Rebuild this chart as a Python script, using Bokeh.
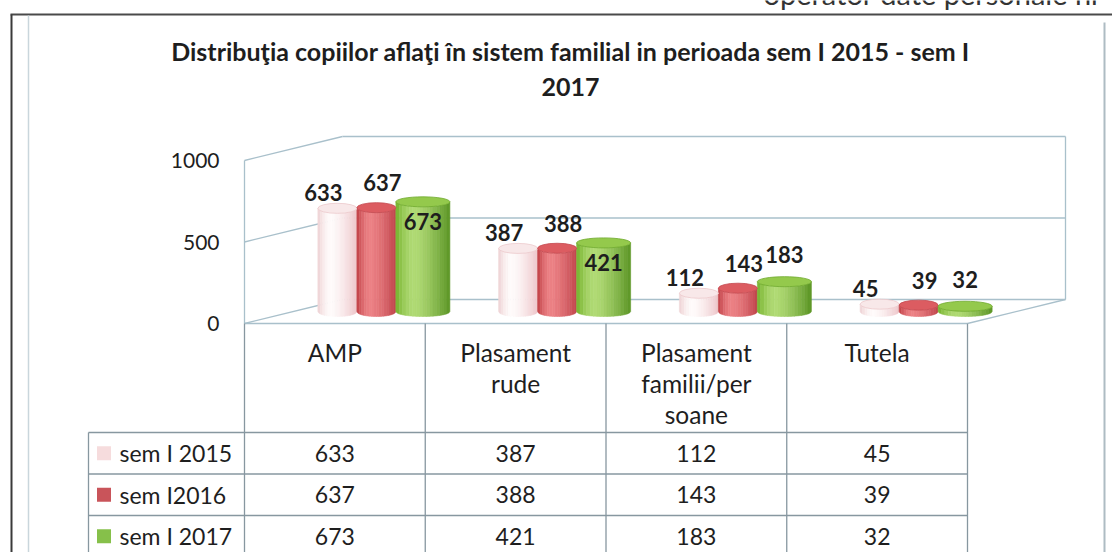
import numpy as np
from bokeh.plotting import figure
from bokeh.models import Range1d, ColumnDataSource
from bokeh.embed import file_html
from bokeh.resources import INLINE
from bokeh.core.properties import value

# ---------------- data ----------------
title_lines = ["Distribuţia copiilor aflaţi în sistem familial in perioada sem I 2015 - sem I", "2017"]
header_note = "operator date personale nr"
categories = ["AMP", "Plasament rude", "Plasament familii/persoane", "Tutela"]
category_lines = [["AMP"], ["Plasament", "rude"], ["Plasament", "familii/per", "soane"], ["Tutela"]]
series_names = ["sem I 2015", "sem I2016", "sem I 2017"]
sem_2015 = [633, 387, 112, 45]
sem_2016 = [637, 388, 143, 39]
sem_2017 = [673, 421, 183, 32]
y_ticks = [0, 500, 1000]
series_values = [sem_2015, sem_2016, sem_2017]

# ---------------- layout (image px) ----------------
W, H, OFF = 1112, 552, 0
X0, CAT_W = 244.0, 180.75      # left of category 0 on the front plane, width of one category
Y0, PXU = 323.0, 0.163         # px of value 0, px per value unit
DXP, DYP = 98.0, 24.0          # depth offset of the back wall (px)

def xd(px):
    return (px - X0) / CAT_W

def yd(py):
    return (Y0 - py) / PXU

def dxp(px):
    return px / CAT_W

def dyp(px):
    return px / PXU

DX, DY = dxp(DXP), dyp(DYP)
NCAT = len(categories)

p = figure(width=W, height=H, output_backend="svg", toolbar_location=None,
           x_range=Range1d(xd(OFF), xd(OFF + W)), y_range=Range1d(yd(OFF + H), yd(OFF)),
           x_axis_location=None, y_axis_location=None, min_border=0)
p.grid.visible = False
p.outline_line_color = None
p.background_fill_color = "white"
p.border_fill_color = "white"

FONT = value("Lato")
TXT = "#1e1e1e"

# ---------------- page header fragment (cut at top, as in the scan) ----------------
p.text(x=[xd(763)], y=[yd(-7)], text=[header_note], text_font=FONT, text_font_size="29px",
       text_color="#333333", text_align="left", text_baseline="middle")

# ---------------- outer frame ----------------
p.segment(x0=[xd(10), xd(11), xd(28), xd(1104)], y0=[yd(14), yd(14), yd(15), yd(22)],
          x1=[xd(1114), xd(11), xd(28), xd(1104)], y1=[yd(14), yd(560), yd(560), yd(560)],
          line_color=["#4a4a4a", "#3a3a3a", "#c9d6dc", "#aebcc3"], line_width=[2.2, 2, 1.5, 2])

# ---------------- walls and gridlines ----------------
WALL = "#a9c0cb"
top = max(y_ticks)
gx0, gy0, gx1, gy1 = [], [], [], []
for t in y_ticks:
    gx0.append(0); gy0.append(t); gx1.append(DX); gy1.append(t + DY)                 # side wall
    gx0.append(DX); gy0.append(t + DY); gx1.append(NCAT + DX); gy1.append(t + DY)    # back wall
gx0 += [0, NCAT + DX, 0, NCAT]
gy0 += [0, DY, 0, 0]
gx1 += [0, NCAT + DX, NCAT, NCAT + DX]
gy1 += [top, top + DY, 0, DY]
p.segment(x0=gx0, y0=gy0, x1=gx1, y1=gy1, line_color=WALL, line_width=1.3)

# ---------------- cylinders ----------------
def hex2rgb(h):
    h = h.lstrip("#")
    return np.array([int(h[i:i + 2], 16) for i in (0, 2, 4)], dtype=float)

def rgb2hex(c):
    c = np.clip(np.round(c), 0, 255).astype(int)
    return "#%02x%02x%02x" % tuple(c)

def shade(u, left, hi, right, hpos=-0.3):
    L, Hh, R = hex2rgb(left), hex2rgb(hi), hex2rgb(right)
    if u < hpos:
        t = (u + 1) / (hpos + 1)
        t = np.sin(t * np.pi / 2)
        return rgb2hex(L + (Hh - L) * t)
    t = (u - hpos) / (1 - hpos)
    t = t ** 1.4
    return rgb2hex(Hh + (R - Hh) * t)

palettes = [
    dict(left="#eed0d3", hi="#fffbfb", right="#eec6ca", top="#f8e8e9", rim="#ecc9cc"),
    dict(left="#bf3d43", hi="#ec8185", right="#c0444b", top="#dc5c61", rim="#c44a50"),
    dict(left="#74b22c", hi="#b0da74", right="#5a9424", top="#94c94c", rim="#6fa92c"),
]
legend_colors = ["#f6dcdd", "#c9545a", "#86c04a"]
widths_px = [39, 39, 54]
offs_px = []
acc = -sum(widths_px) / 2
for wpx in widths_px:
    offs_px.append(acc + wpx / 2)
    acc += wpx
label_dx_px = [-14, 6, 0]
label_dy_px = [16, 25, 27]

EH = dyp(5)          # half height of the elliptic caps
NSTRIP = 16
xs, ys, cols = [], [], []
ex, ey, ew, ec, er = [], [], [], [], []
lx, ly, lt = [], [], []
for i in range(NCAT):
    gc = i + 0.5 + 0.5 * DX
    for s, vals in enumerate(series_values):
        v = vals[i]
        pal = palettes[s]
        cx = gc + dxp(offs_px[s])
        hw = dxp(widths_px[s] / 2)
        base = 0.5 * DY
        topc = v + 0.5 * DY
        edges = np.linspace(-1, 1, NSTRIP + 1)
        for k in range(NSTRIP):
            us = np.linspace(edges[k], edges[k + 1], 5)
            xx = cx + us * hw
            curve = EH * np.sqrt(np.clip(1 - us ** 2, 0, 1))
            yb = base - curve
            yt = topc - curve
            xs.append(list(xx) + list(xx[::-1]))
            ys.append(list(yb) + list(yt[::-1]))
            cols.append(shade((edges[k] + edges[k + 1]) / 2, pal["left"], pal["hi"], pal["right"]))
        ex.append(cx); ey.append(topc); ew.append(2 * hw); ec.append(pal["top"]); er.append(pal["rim"])
        if s == 2 and v > 400:
            ly.append(topc - dyp(20))
        else:
            ly.append(topc + dyp(label_dy_px[s]))
        lx.append(cx + dxp(label_dx_px[s]))
        lt.append(str(v))

p.patches(xs="xs", ys="ys", fill_color="c", line_color="c", line_width=0.6,
          source=ColumnDataSource(dict(xs=xs, ys=ys, c=cols)))
p.ellipse(x=ex, y=ey, width=ew, height=2 * EH, fill_color=ec, line_color=er, line_width=0.8)
p.text(x=lx, y=ly, text=lt, text_font=FONT, text_font_style="bold", text_font_size="22px",
       text_color=TXT, text_align="center", text_baseline="middle")

# ---------------- y tick labels ----------------
p.text(x=[xd(219)] * len(y_ticks), y=y_ticks, text=[str(t) for t in y_ticks], text_font=FONT,
       text_font_size="21px", text_color=TXT, text_align="right", text_baseline="middle")

# ---------------- title ----------------
p.text(x=[xd(570)] * 2, y=[yd(50), yd(86)], text=title_lines, text_font=FONT,
       text_font_style="bold", text_font_size="25px", text_color=TXT,
       text_align="center", text_baseline="middle")

# ---------------- data table ----------------
TBL = "#8797a0"
LEG_L = 88
row_lines_px = [432, 473.5, 515, 556.5]
tx0, ty0, tx1, ty1 = [], [], [], []
for c in range(NCAT + 1):
    tx0.append(c); ty0.append(0); tx1.append(c); ty1.append(yd(560))
for r in row_lines_px:
    tx0.append(xd(LEG_L)); ty0.append(yd(r)); tx1.append(NCAT); ty1.append(yd(r))
tx0.append(xd(LEG_L)); ty0.append(yd(row_lines_px[0])); tx1.append(xd(LEG_L)); ty1.append(yd(560))
p.segment(x0=tx0, y0=ty0, x1=tx1, y1=ty1, line_color=TBL, line_width=1.3)

hx, hy, ht = [], [], []
for i, lines in enumerate(category_lines):
    for k, ln in enumerate(lines):
        hx.append(i + 0.5); hy.append(yd(352 + 31 * k)); ht.append(ln)
p.text(x=hx, y=hy, text=ht, text_font=FONT, text_font_size="24.5px", text_color=TXT,
       text_align="center", text_baseline="middle")

cx_, cy_, ct_ = [], [], []
for s, vals in enumerate(series_values):
    rc = (row_lines_px[s] + row_lines_px[s + 1]) / 2
    for i, v in enumerate(vals):
        cx_.append(i + 0.5); cy_.append(yd(rc)); ct_.append(str(v))
p.text(x=cx_, y=cy_, text=ct_, text_font=FONT, text_font_size="23px", text_color=TXT,
       text_align="center", text_baseline="middle")

rcs = [(row_lines_px[s] + row_lines_px[s + 1]) / 2 for s in range(len(series_names))]
p.rect(x=[xd(103.5)] * 3, y=[yd(r) for r in rcs], width=dxp(14), height=dyp(14),
       fill_color=legend_colors, line_color=None)
p.text(x=[xd(119)] * 3, y=[yd(r) for r in rcs], text=series_names, text_font=FONT,
       text_font_size="23px", text_color=TXT, text_align="left", text_baseline="middle")

open("out.html", "w").write(file_html(p, INLINE))
